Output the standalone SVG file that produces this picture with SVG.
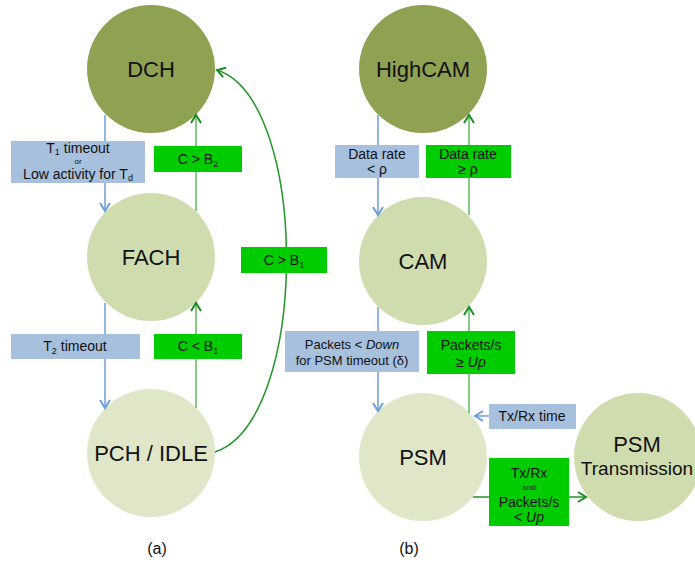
<svg xmlns="http://www.w3.org/2000/svg" width="695" height="565" viewBox="0 0 695 565">
<style>
text{font-family:"Liberation Sans",Arial,sans-serif;fill:#111;text-anchor:middle}
.n{font-size:22px}
.t{font-size:14px}
.s{font-size:13px}
.tiny{font-size:8px}
.sub{font-size:9px}
.c1{fill:#8ea252}
.c2{fill:#cfdcad}
.c3{fill:#e0e7c9}
.bb{fill:#a7c0de}
.gb{fill:#00cc00}
.bl{stroke:#6f9ed6;stroke-width:1.5;fill:none}
.gl{stroke:#5cb85c;stroke-width:1.5;fill:none}
.gd{stroke:#22952a;stroke-width:1.5;fill:none}
</style>
<defs>
<marker id="ab" markerUnits="userSpaceOnUse" markerWidth="12" markerHeight="12" refX="9" refY="6" orient="auto"><path d="M1,1 L9,6 L1,11" fill="none" stroke="#6f9ed6" stroke-width="2"/></marker>
<marker id="ag" markerUnits="userSpaceOnUse" markerWidth="12" markerHeight="12" refX="9" refY="6" orient="auto"><path d="M1,1 L9,6 L1,11" fill="none" stroke="#1e8c24" stroke-width="2"/></marker>
</defs>
<rect width="695" height="565" fill="#fff"/>
<g id="nodes">
<g id="dch"><circle class="c1" cx="151" cy="69" r="64"/><text class="n" x="151" y="77">DCH</text></g>
<g id="fach"><circle class="c2" cx="151" cy="257" r="64"/><text class="n" x="151" y="265">FACH</text></g>
<g id="pch"><circle class="c3" cx="151" cy="453" r="64"/><text class="n" x="151" y="461">PCH / IDLE</text></g>
<g id="highcam"><circle class="c1" cx="423" cy="69" r="64"/><text class="n" x="423" y="77">HighCAM</text></g>
<g id="cam"><circle class="c2" cx="423" cy="261" r="64"/><text class="n" x="423" y="269">CAM</text></g>
<g id="psm"><circle class="c3" cx="423" cy="457" r="64"/><text class="n" x="423" y="465">PSM</text></g>
<g id="psmtx"><circle class="c2" cx="638" cy="457" r="64"/><text class="n" x="637" y="452">PSM</text><text x="637" y="475" style="font-size:19px">Transmission</text></g>
</g>
<g id="connectors">
<line class="bl" x1="105" y1="115" x2="105" y2="211" marker-end="url(#ab)"/>
<line class="gl" x1="196" y1="211" x2="196" y2="115" marker-end="url(#ag)"/>
<line class="bl" x1="105" y1="303" x2="105" y2="408" marker-end="url(#ab)"/>
<line class="gl" x1="196" y1="408" x2="196" y2="303" marker-end="url(#ag)"/>
<path class="gd" d="M215,452 C310,420 310,100 217,70" marker-end="url(#ag)"/>
<line class="bl" x1="378" y1="115" x2="378" y2="215" marker-end="url(#ab)"/>
<line class="gl" x1="469" y1="215" x2="469" y2="115" marker-end="url(#ag)"/>
<line class="bl" x1="378" y1="307" x2="378" y2="411" marker-end="url(#ab)"/>
<line class="gl" x1="469" y1="413" x2="469" y2="307" marker-end="url(#ag)"/>
<line class="bl" x1="576" y1="416" x2="475" y2="416" marker-end="url(#ab)"/>
<line class="gd" x1="473" y1="497" x2="586" y2="497" marker-end="url(#ag)"/>
</g>
<g id="labels">
<rect class="bb" x="11" y="141" width="134" height="42"/>
<text class="t" x="78" y="153">T<tspan class="sub" dy="2">1</tspan><tspan dy="-2"> timeout</tspan></text>
<text class="tiny" x="78" y="164">or</text>
<text class="t" x="78" y="179">Low activity for T<tspan class="sub" dy="2">d</tspan></text>
<rect class="gb" x="154" y="146" width="88" height="26"/>
<text class="t" x="198" y="164">C &gt; B<tspan class="sub" dy="3">2</tspan></text>
<rect class="bb" x="11" y="334" width="129" height="25"/>
<text class="t" x="75" y="351">T<tspan class="sub" dy="3">2</tspan><tspan dy="-3"> timeout</tspan></text>
<rect class="gb" x="154" y="334" width="88" height="25"/>
<text class="t" x="198" y="351">C &lt; B<tspan class="sub" dy="3">1</tspan></text>
<rect class="gb" x="241" y="247" width="86" height="26"/>
<text class="t" x="284" y="265">C &gt; B<tspan class="sub" dy="3">1</tspan></text>
<rect class="bb" x="335" y="145" width="84" height="33"/>
<text class="t" x="377" y="159">Data rate</text>
<text class="t" x="377" y="174">&lt; ρ</text>
<rect class="gb" x="426" y="145" width="85" height="33"/>
<text class="t" x="468" y="159">Data rate</text>
<text class="t" x="468" y="174">≥ ρ</text>
<rect class="bb" x="285" y="331" width="134" height="41"/>
<text class="s" x="352" y="349">Packets &lt; <tspan font-style="italic">Down</tspan></text>
<text class="s" x="352" y="365">for PSM timeout (δ)</text>
<rect class="gb" x="427" y="331" width="88" height="43"/>
<text class="t" x="471" y="350">Packets/s</text>
<text class="t" x="471" y="367">≥ <tspan font-style="italic">Up</tspan></text>
<rect class="bb" x="489" y="404" width="87" height="25"/>
<text class="t" x="532" y="421">Tx/Rx time</text>
<rect class="gb" x="489" y="458" width="80" height="68"/>
<text class="t" x="529" y="478">Tx/Rx</text>
<text class="tiny" x="529" y="490">and</text>
<text class="t" x="529" y="507">Packets/s</text>
<text class="t" x="529" y="522">&lt; <tspan font-style="italic">Up</tspan></text>
<text x="157" y="554" style="font-size:16px">(a)</text>
<text x="409" y="554" style="font-size:16px">(b)</text>
</g>
</svg>
